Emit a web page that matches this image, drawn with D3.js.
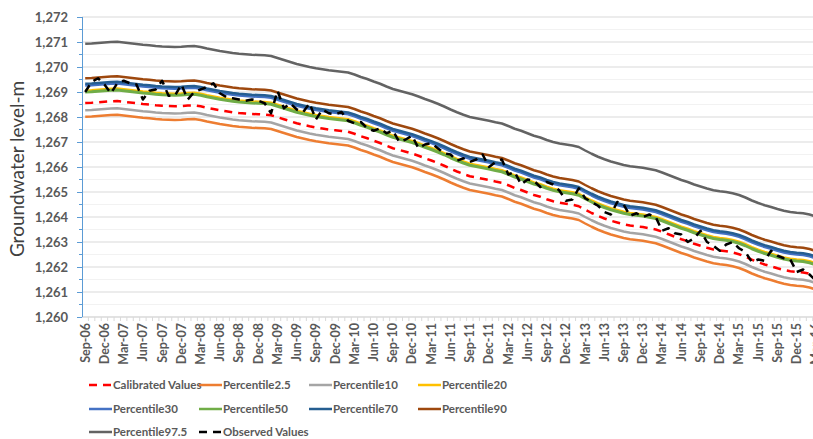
<!DOCTYPE html>
<html>
<head>
<meta charset="utf-8">
<title>Groundwater level</title>
<script src="https://cdn.jsdelivr.net/npm/d3@7"></script>
<style>
  body { margin: 0; background: #fff; }
  text { font-family: Lato, "Open Sans", sans-serif; }
</style>
</head>
<body>
<svg id="chart" width="813" height="439"></svg>
<script>
// monthly categories, Sep-06 .. Mar-16
var months = [
  "Sep-06","Oct-06","Nov-06","Dec-06",
  "Jan-07","Feb-07","Mar-07","Apr-07","May-07","Jun-07","Jul-07","Aug-07","Sep-07","Oct-07","Nov-07","Dec-07",
  "Jan-08","Feb-08","Mar-08","Apr-08","May-08","Jun-08","Jul-08","Aug-08","Sep-08","Oct-08","Nov-08","Dec-08",
  "Jan-09","Feb-09","Mar-09","Apr-09","May-09","Jun-09","Jul-09","Aug-09","Sep-09","Oct-09","Nov-09","Dec-09",
  "Jan-10","Feb-10","Mar-10","Apr-10","May-10","Jun-10","Jul-10","Aug-10","Sep-10","Oct-10","Nov-10","Dec-10",
  "Jan-11","Feb-11","Mar-11","Apr-11","May-11","Jun-11","Jul-11","Aug-11","Sep-11","Oct-11","Nov-11","Dec-11",
  "Jan-12","Feb-12","Mar-12","Apr-12","May-12","Jun-12","Jul-12","Aug-12","Sep-12","Oct-12","Nov-12","Dec-12",
  "Jan-13","Feb-13","Mar-13","Apr-13","May-13","Jun-13","Jul-13","Aug-13","Sep-13","Oct-13","Nov-13","Dec-13",
  "Jan-14","Feb-14","Mar-14","Apr-14","May-14","Jun-14","Jul-14","Aug-14","Sep-14","Oct-14","Nov-14","Dec-14",
  "Jan-15","Feb-15","Mar-15","Apr-15","May-15","Jun-15","Jul-15","Aug-15","Sep-15","Oct-15","Nov-15","Dec-15",
  "Jan-16","Feb-16","Mar-16"
];

var tickLabels = [
  "Sep-06","Dec-06","Mar-07","Jun-07","Sep-07","Dec-07","Mar-08","Jun-08","Sep-08","Dec-08",
  "Mar-09","Jun-09","Sep-09","Dec-09","Mar-10","Jun-10","Sep-10","Dec-10","Mar-11","Jun-11",
  "Sep-11","Dec-11","Mar-12","Jun-12","Sep-12","Dec-12","Mar-13","Jun-13","Sep-13","Dec-13",
  "Mar-14","Jun-14","Sep-14","Dec-14","Mar-15","Jun-15","Sep-15","Dec-15","Mar-16"
];

var yTicks = [1260,1261,1262,1263,1264,1265,1266,1267,1268,1269,1270,1271,1272];

var calibrated = [
  1268.56,1268.57,1268.59,1268.61,1268.63,1268.64,1268.61,1268.58,1268.55,1268.52,
  1268.50,1268.47,1268.45,1268.44,1268.43,1268.44,1268.46,1268.47,1268.43,1268.37,
  1268.32,1268.27,1268.23,1268.19,1268.16,1268.14,1268.12,1268.11,1268.10,1268.07,
  1267.99,1267.91,1267.83,1267.75,1267.69,1267.63,1267.58,1267.54,1267.50,1267.47,
  1267.44,1267.41,1267.33,1267.23,1267.15,1267.05,1266.96,1266.85,1266.75,1266.68,
  1266.61,1266.54,1266.45,1266.35,1266.26,1266.16,1266.05,1265.93,1265.82,1265.72,
  1265.63,1265.58,1265.53,1265.48,1265.42,1265.37,1265.27,1265.16,1265.08,1264.98,
  1264.88,1264.81,1264.71,1264.63,1264.57,1264.53,1264.49,1264.43,1264.29,1264.16,
  1264.04,1263.94,1263.85,1263.78,1263.71,1263.66,1263.63,1263.60,1263.55,1263.50,
  1263.41,1263.31,1263.21,1263.11,1263.03,1262.93,1262.85,1262.77,1262.70,1262.66,
  1262.63,1262.58,1262.51,1262.41,1262.29,1262.19,1262.10,1262.03,1261.95,1261.88,
  1261.83,1261.80,1261.78,1261.73,1261.65
];

var p2_5 = [
  1268.01,1268.02,1268.04,1268.06,1268.08,1268.09,1268.06,1268.03,1268.00,1267.97,
  1267.95,1267.92,1267.90,1267.89,1267.88,1267.89,1267.91,1267.92,1267.88,1267.82,
  1267.77,1267.72,1267.68,1267.64,1267.61,1267.59,1267.57,1267.56,1267.55,1267.52,
  1267.44,1267.36,1267.28,1267.20,1267.14,1267.08,1267.03,1266.99,1266.95,1266.92,
  1266.89,1266.86,1266.78,1266.68,1266.60,1266.50,1266.41,1266.30,1266.20,1266.13,
  1266.06,1265.99,1265.90,1265.80,1265.71,1265.61,1265.50,1265.38,1265.27,1265.17,
  1265.08,1265.03,1264.98,1264.93,1264.87,1264.82,1264.72,1264.61,1264.53,1264.43,
  1264.33,1264.26,1264.16,1264.08,1264.02,1263.98,1263.94,1263.88,1263.74,1263.61,
  1263.49,1263.39,1263.30,1263.23,1263.16,1263.11,1263.08,1263.05,1263.00,1262.95,
  1262.86,1262.76,1262.66,1262.56,1262.48,1262.38,1262.30,1262.22,1262.15,1262.11,
  1262.08,1262.03,1261.96,1261.86,1261.74,1261.64,1261.55,1261.48,1261.40,1261.33,
  1261.28,1261.25,1261.23,1261.18,1261.10
];

var p10 = [
  1268.27,1268.28,1268.30,1268.32,1268.34,1268.35,1268.32,1268.29,1268.26,1268.23,
  1268.21,1268.18,1268.16,1268.15,1268.14,1268.15,1268.17,1268.18,1268.14,1268.08,
  1268.03,1267.98,1267.94,1267.90,1267.87,1267.85,1267.83,1267.82,1267.81,1267.78,
  1267.70,1267.62,1267.54,1267.46,1267.40,1267.34,1267.29,1267.25,1267.21,1267.18,
  1267.15,1267.12,1267.04,1266.94,1266.86,1266.76,1266.67,1266.56,1266.46,1266.39,
  1266.32,1266.25,1266.16,1266.06,1265.97,1265.87,1265.76,1265.64,1265.53,1265.43,
  1265.34,1265.29,1265.24,1265.19,1265.13,1265.08,1264.98,1264.87,1264.79,1264.69,
  1264.59,1264.52,1264.42,1264.34,1264.28,1264.24,1264.20,1264.14,1264.00,1263.87,
  1263.75,1263.65,1263.56,1263.49,1263.42,1263.37,1263.34,1263.31,1263.26,1263.21,
  1263.12,1263.02,1262.92,1262.82,1262.74,1262.64,1262.56,1262.48,1262.41,1262.37,
  1262.34,1262.29,1262.22,1262.12,1262.00,1261.90,1261.81,1261.74,1261.66,1261.59,
  1261.54,1261.51,1261.49,1261.44,1261.36
];

var p20 = [
  1269.06,1269.07,1269.09,1269.11,1269.13,1269.14,1269.11,1269.08,1269.05,1269.02,
  1269.00,1268.97,1268.95,1268.94,1268.93,1268.94,1268.96,1268.97,1268.93,1268.87,
  1268.82,1268.77,1268.73,1268.69,1268.66,1268.64,1268.62,1268.61,1268.60,1268.57,
  1268.49,1268.41,1268.33,1268.25,1268.19,1268.13,1268.08,1268.04,1268.00,1267.97,
  1267.94,1267.91,1267.83,1267.73,1267.65,1267.55,1267.46,1267.35,1267.25,1267.18,
  1267.11,1267.04,1266.95,1266.85,1266.76,1266.66,1266.55,1266.43,1266.32,1266.22,
  1266.13,1266.08,1266.03,1265.98,1265.92,1265.87,1265.77,1265.66,1265.58,1265.48,
  1265.38,1265.31,1265.21,1265.13,1265.07,1265.03,1264.99,1264.93,1264.79,1264.66,
  1264.54,1264.44,1264.35,1264.28,1264.21,1264.16,1264.13,1264.10,1264.05,1264.00,
  1263.91,1263.81,1263.71,1263.61,1263.53,1263.43,1263.35,1263.27,1263.20,1263.16,
  1263.13,1263.08,1263.01,1262.91,1262.79,1262.69,1262.60,1262.53,1262.45,1262.38,
  1262.33,1262.30,1262.28,1262.23,1262.15
];

var p30 = [
  1269.26,1269.27,1269.29,1269.31,1269.33,1269.34,1269.31,1269.28,1269.25,1269.22,
  1269.20,1269.17,1269.15,1269.14,1269.13,1269.14,1269.16,1269.17,1269.13,1269.07,
  1269.02,1268.97,1268.93,1268.89,1268.86,1268.84,1268.82,1268.81,1268.80,1268.77,
  1268.69,1268.61,1268.53,1268.45,1268.39,1268.33,1268.28,1268.24,1268.20,1268.17,
  1268.14,1268.11,1268.03,1267.93,1267.85,1267.75,1267.66,1267.55,1267.45,1267.38,
  1267.31,1267.24,1267.15,1267.05,1266.96,1266.86,1266.75,1266.63,1266.52,1266.42,
  1266.33,1266.28,1266.23,1266.18,1266.12,1266.07,1265.97,1265.86,1265.78,1265.68,
  1265.58,1265.51,1265.41,1265.33,1265.27,1265.23,1265.19,1265.13,1264.99,1264.86,
  1264.74,1264.64,1264.55,1264.48,1264.41,1264.36,1264.33,1264.30,1264.25,1264.20,
  1264.11,1264.01,1263.91,1263.81,1263.73,1263.63,1263.55,1263.47,1263.40,1263.36,
  1263.33,1263.28,1263.21,1263.11,1262.99,1262.89,1262.80,1262.73,1262.65,1262.58,
  1262.53,1262.50,1262.48,1262.43,1262.35
];

var p50 = [
  1269.00,1269.01,1269.03,1269.05,1269.07,1269.08,1269.05,1269.02,1268.99,1268.96,
  1268.94,1268.91,1268.89,1268.88,1268.87,1268.88,1268.90,1268.91,1268.87,1268.81,
  1268.76,1268.71,1268.67,1268.63,1268.60,1268.58,1268.56,1268.55,1268.54,1268.51,
  1268.43,1268.35,1268.27,1268.19,1268.13,1268.07,1268.02,1267.98,1267.94,1267.91,
  1267.88,1267.85,1267.77,1267.67,1267.59,1267.49,1267.40,1267.29,1267.19,1267.12,
  1267.05,1266.98,1266.89,1266.79,1266.70,1266.60,1266.49,1266.37,1266.26,1266.16,
  1266.07,1266.02,1265.97,1265.92,1265.86,1265.81,1265.71,1265.60,1265.52,1265.42,
  1265.32,1265.25,1265.15,1265.07,1265.01,1264.97,1264.93,1264.87,1264.73,1264.60,
  1264.48,1264.38,1264.29,1264.22,1264.15,1264.10,1264.07,1264.04,1263.99,1263.94,
  1263.85,1263.75,1263.65,1263.55,1263.47,1263.37,1263.29,1263.21,1263.14,1263.10,
  1263.07,1263.02,1262.95,1262.85,1262.73,1262.63,1262.54,1262.47,1262.39,1262.32,
  1262.27,1262.24,1262.22,1262.17,1262.09
];

var p70 = [
  1269.33,1269.34,1269.36,1269.38,1269.40,1269.41,1269.38,1269.35,1269.32,1269.29,
  1269.27,1269.24,1269.22,1269.21,1269.20,1269.21,1269.23,1269.24,1269.20,1269.14,
  1269.09,1269.04,1269.00,1268.96,1268.93,1268.91,1268.89,1268.88,1268.87,1268.84,
  1268.76,1268.68,1268.60,1268.52,1268.46,1268.40,1268.35,1268.31,1268.27,1268.24,
  1268.21,1268.18,1268.10,1268.00,1267.92,1267.82,1267.73,1267.62,1267.52,1267.45,
  1267.38,1267.31,1267.22,1267.12,1267.03,1266.93,1266.82,1266.70,1266.59,1266.49,
  1266.40,1266.35,1266.30,1266.25,1266.19,1266.14,1266.04,1265.93,1265.85,1265.75,
  1265.65,1265.58,1265.48,1265.40,1265.34,1265.30,1265.26,1265.20,1265.06,1264.93,
  1264.81,1264.71,1264.62,1264.55,1264.48,1264.43,1264.40,1264.37,1264.32,1264.27,
  1264.18,1264.08,1263.98,1263.88,1263.80,1263.70,1263.62,1263.54,1263.47,1263.43,
  1263.40,1263.35,1263.28,1263.18,1263.06,1262.96,1262.87,1262.80,1262.72,1262.65,
  1262.60,1262.57,1262.55,1262.50,1262.42
];

var p90 = [
  1269.55,1269.56,1269.58,1269.60,1269.62,1269.63,1269.60,1269.57,1269.54,1269.51,
  1269.49,1269.46,1269.44,1269.43,1269.42,1269.43,1269.45,1269.46,1269.42,1269.36,
  1269.31,1269.26,1269.22,1269.18,1269.15,1269.13,1269.11,1269.10,1269.09,1269.06,
  1268.98,1268.90,1268.82,1268.74,1268.68,1268.62,1268.57,1268.53,1268.49,1268.46,
  1268.43,1268.40,1268.32,1268.22,1268.14,1268.04,1267.95,1267.84,1267.74,1267.67,
  1267.60,1267.53,1267.44,1267.34,1267.25,1267.15,1267.04,1266.92,1266.81,1266.71,
  1266.62,1266.57,1266.52,1266.47,1266.41,1266.36,1266.26,1266.15,1266.07,1265.97,
  1265.87,1265.80,1265.70,1265.62,1265.56,1265.52,1265.48,1265.42,1265.28,1265.15,
  1265.03,1264.93,1264.84,1264.77,1264.70,1264.65,1264.62,1264.59,1264.54,1264.49,
  1264.40,1264.30,1264.20,1264.10,1264.02,1263.92,1263.84,1263.76,1263.69,1263.65,
  1263.62,1263.57,1263.50,1263.40,1263.28,1263.18,1263.09,1263.02,1262.94,1262.87,
  1262.82,1262.79,1262.77,1262.72,1262.64
];

var p97_5 = [
  1270.93,1270.94,1270.96,1270.98,1271.00,1271.01,1270.98,1270.95,1270.92,1270.89,
  1270.87,1270.84,1270.82,1270.81,1270.80,1270.81,1270.83,1270.84,1270.80,1270.74,
  1270.69,1270.64,1270.60,1270.56,1270.53,1270.51,1270.49,1270.48,1270.47,1270.44,
  1270.36,1270.28,1270.20,1270.12,1270.06,1270.00,1269.95,1269.91,1269.87,1269.84,
  1269.81,1269.78,1269.70,1269.60,1269.52,1269.42,1269.33,1269.22,1269.12,1269.05,
  1268.98,1268.91,1268.82,1268.72,1268.63,1268.53,1268.42,1268.30,1268.19,1268.09,
  1268.00,1267.95,1267.90,1267.85,1267.79,1267.74,1267.64,1267.53,1267.45,1267.35,
  1267.25,1267.18,1267.08,1267.00,1266.94,1266.90,1266.86,1266.80,1266.66,1266.53,
  1266.41,1266.31,1266.22,1266.15,1266.08,1266.03,1266.00,1265.97,1265.92,1265.87,
  1265.78,1265.68,1265.58,1265.48,1265.40,1265.30,1265.22,1265.14,1265.07,1265.03,
  1265.00,1264.95,1264.88,1264.78,1264.66,1264.56,1264.47,1264.40,1264.32,1264.25,
  1264.20,1264.17,1264.15,1264.10,1264.02
];

var observed = [
  1269.00,1269.40,1269.55,1269.30,1268.95,1269.35,1269.45,1269.35,1269.30,1268.70,
  1269.05,1269.10,1269.45,1268.85,1268.85,1269.30,1268.70,1269.00,1269.10,1269.20,
  1269.35,1268.95,1268.80,1268.75,1268.70,1268.65,1268.70,1268.65,1268.55,1268.15,
  1269.05,1268.35,1268.55,1268.30,1268.20,1268.55,1267.90,1268.30,1268.15,1268.10,
  1268.20,1267.85,1267.75,1267.80,1267.55,1267.45,1267.55,1267.35,1267.45,1267.00,
  1267.10,1267.25,1266.75,1266.90,1266.95,1266.75,1266.55,1266.50,1266.25,1266.35,
  1266.20,1266.30,1266.50,1266.00,1266.20,1266.30,1265.70,1265.80,1265.30,1265.50,
  1265.45,1265.20,1265.40,1265.30,1265.05,1264.65,1264.70,1265.15,1264.75,1264.60,
  1264.45,1264.20,1264.10,1264.60,1264.50,1264.05,1264.15,1264.00,1264.10,1264.00,
  1263.45,1263.55,1263.35,1263.30,1263.00,1263.15,1263.45,1263.00,1262.85,1262.65,
  1262.90,1263.00,1262.75,1262.60,1262.20,1262.30,1262.25,1262.65,1262.45,1262.35,
  1262.30,1261.80,1261.90,1261.70,1261.45
];

// series in Excel drawing order
var series = [
  {name: "Calibrated Values", values: calibrated, color: "#FF0000", width: 2.5, dash: "8,6"},
  {name: "Percentile2.5", values: p2_5, color: "#ED7D31", width: 2.5},
  {name: "Percentile10", values: p10, color: "#A5A5A5", width: 2.5},
  {name: "Percentile20", values: p20, color: "#FFC000", width: 2.5},
  {name: "Percentile30", values: p30, color: "#4472C4", width: 2.5},
  {name: "Percentile50", values: p50, color: "#70AD47", width: 3},
  {name: "Percentile70", values: p70, color: "#255E91", width: 2.5},
  {name: "Percentile90", values: p90, color: "#9E480E", width: 2.5},
  {name: "Percentile97.5", values: p97_5, color: "#636363", width: 2.5},
  {name: "Observed Values", values: observed, color: "#000000", width: 2.5, dash: "8,6"}
];

var svg = d3.select("#chart");
var plotLeft = 82, plotTop = 17, plotH = 300, step = 6.41, plotRight = 813;

var x = d3.scaleBand().domain(months).range([plotLeft, plotLeft + months.length * step]);
var y = d3.scaleLinear().domain([1260, 1272]).range([plotTop + plotH, plotTop]);
var cx = function(i) { return x(months[i]) + x.bandwidth() / 2; };

// gridlines: majors on integers, light minors on halves
var minorVals = d3.range(1260.5, 1272, 1);
svg.append("g").selectAll("line").data(minorVals).enter().append("line")
  .attr("x1", plotLeft).attr("x2", plotRight)
  .attr("y1", function(d) { return y(d); }).attr("y2", function(d) { return y(d); })
  .attr("stroke", "#F2F2F2").attr("stroke-width", 1);
svg.append("g").selectAll("line").data(yTicks).enter().append("line")
  .attr("x1", plotLeft).attr("x2", plotRight)
  .attr("y1", function(d) { return y(d); }).attr("y2", function(d) { return y(d); })
  .attr("stroke", "#D9D9D9").attr("stroke-width", 1);

// x axis line + month ticks
svg.append("line").attr("x1", plotLeft).attr("x2", plotRight)
  .attr("y1", y(1260)).attr("y2", y(1260))
  .attr("stroke", "#D9D9D9").attr("stroke-width", 1);
svg.append("g").selectAll("line").data(months).enter().append("line")
  .attr("x1", function(d) { return x(d) + x.bandwidth(); })
  .attr("x2", function(d) { return x(d) + x.bandwidth(); })
  .attr("y1", y(1260)).attr("y2", y(1260) + 4)
  .attr("stroke", "#D9D9D9").attr("stroke-width", 1);

var xAxis = svg.append("g")
  .attr("transform", "translate(0," + y(1260) + ")")
  .call(d3.axisBottom(x).tickValues(tickLabels).tickSize(0));
xAxis.select(".domain").remove();
xAxis.selectAll("text")
  .attr("transform", "rotate(-90)")
  .attr("x", -6).attr("y", 0).attr("dy", "0.35em")
  .style("text-anchor", "end")
  .attr("fill", "#595959")
  .style("font-size", "12.5px").style("font-weight", "bold");

// y axis
var yAxis = svg.append("g")
  .attr("transform", "translate(" + plotLeft + ",0)")
  .call(d3.axisLeft(y).tickValues(yTicks).tickFormat(d3.format(",")).tickSize(5).tickPadding(9));
yAxis.select(".domain").attr("stroke", "#5B9BD5").attr("d", "M0.5," + plotTop + "V" + (plotTop + plotH));
yAxis.selectAll(".tick line").attr("stroke", "#5B9BD5");
yAxis.selectAll("text").attr("fill", "#595959")
  .style("font-size", "13px").style("font-weight", "bold");
yAxis.selectAll(".minor").data(minorVals).enter().append("line")
  .attr("class", "minor")
  .attr("x1", -3).attr("x2", 0)
  .attr("y1", function(d) { return y(d); }).attr("y2", function(d) { return y(d); })
  .attr("stroke", "#5B9BD5");

// axis title
svg.append("text")
  .attr("transform", "translate(24," + (plotTop + 152) + ") rotate(-90)")
  .attr("text-anchor", "middle")
  .attr("fill", "#404040")
  .style("font-size", "19px")
  .text("Groundwater level-m");

// lines
var line = d3.line()
  .x(function(d, i) { return cx(i); })
  .y(function(d) { return y(d); });

svg.append("g").selectAll("path").data(series).enter().append("path")
  .attr("d", function(s) { return line(s.values); })
  .attr("fill", "none")
  .attr("stroke", function(s) { return s.color; })
  .attr("stroke-width", function(s) { return s.width; })
  .attr("stroke-dasharray", function(s) { return s.dash || null; })
  .attr("stroke-linejoin", "round");

// legend, 4 columns
var legCols = [89, 199, 309, 418], legRows = [385, 409, 432];
var leg = svg.append("g").selectAll("g").data(series).enter().append("g")
  .attr("transform", function(s, i) {
    return "translate(" + legCols[i % 4] + "," + legRows[Math.floor(i / 4)] + ")";
  });
leg.append("line")
  .attr("x1", 0).attr("x2", 23).attr("y1", 0).attr("y2", 0)
  .attr("stroke", function(s) { return s.color; })
  .attr("stroke-width", 2.5)
  .attr("stroke-dasharray", function(s) { return s.dash ? "8,6" : null; });
leg.append("text")
  .attr("x", 24).attr("dy", "0.35em")
  .attr("fill", "#595959")
  .style("font-size", "11.5px").style("font-weight", "bold")
  .text(function(s) { return s.name; });
</script>
</body>
</html>
